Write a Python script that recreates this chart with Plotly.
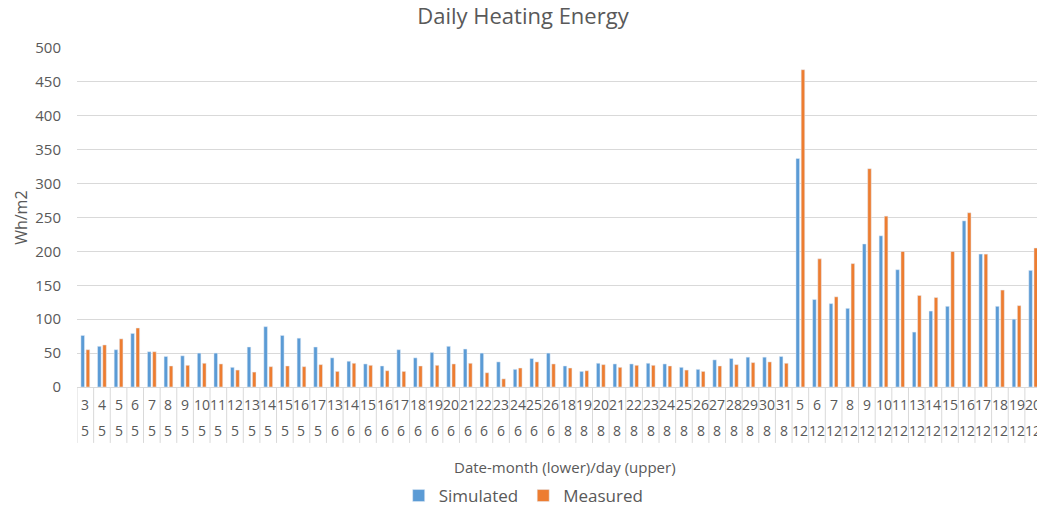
import plotly.graph_objects as go

days = [3, 4, 5, 6, 7, 8, 9, 10, 11, 12, 13, 14, 15, 16, 17,
        13, 14, 15, 16, 17, 18, 19, 20, 21, 22, 23, 24, 25, 26,
        18, 19, 20, 21, 22, 23, 24, 25, 26, 27, 28, 29, 30, 31,
        5, 6, 7, 8, 9, 10, 11, 13, 14, 15, 16, 17, 18, 19, 20]
months = [5] * 15 + [6] * 14 + [8] * 14 + [12] * 15

simulated = [76, 60, 55, 79, 52, 45, 46, 50, 50, 29, 59, 89, 76, 72, 59,
             43, 38, 34, 31, 55, 43, 51, 60, 56, 50, 37, 26, 42, 50,
             31, 23, 35, 34, 34, 35, 34, 29, 26, 40, 42, 44, 44, 45,
             337, 129, 123, 116, 211, 223, 173, 81, 112, 119, 245, 196, 119, 100, 172]
measured = [55, 62, 71, 87, 52, 31, 32, 35, 34, 25, 22, 30, 31, 30, 33,
            23, 35, 32, 24, 23, 31, 32, 34, 35, 21, 12, 28, 37, 34,
            28, 24, 33, 29, 32, 32, 31, 25, 23, 31, 33, 36, 37, 35,
            468, 189, 133, 182, 322, 252, 200, 135, 132, 200, 257, 196, 143, 120, 205]

cats = [f"{d}/{m}" for d, m in zip(days, months)]

TXT = "#595959"
GRID = "#d9d9d9"
FONT = "Open Sans"

fig = go.Figure()
fig.add_trace(go.Bar(x=cats, y=simulated, name="Simulated", marker_color="#5B9BD5"))
fig.add_trace(go.Bar(x=cats, y=measured, name="Measured", marker_color="#ED7D31"))

annotations = []
for c, d, m in zip(cats, days, months):
    annotations.append(dict(x=c, xref="x", y=-0.053, yref="paper", text=str(d),
                            showarrow=False, yanchor="middle", xanchor="center",
                            font=dict(family=FONT, size=14, color=TXT)))
    annotations.append(dict(x=c, xref="x", y=-0.127, yref="paper", text=str(m),
                            showarrow=False, yanchor="middle", xanchor="center",
                            font=dict(family=FONT, size=14, color=TXT)))
annotations.append(dict(x=0.508, xref="paper", y=-0.236, yref="paper",
                        text="Date-month (lower)/day (upper)", showarrow=False,
                        yanchor="middle", xanchor="center",
                        font=dict(family=FONT, size=15, color=TXT)))
annotations.append(dict(x=-0.059, xref="paper", y=0.5, yref="paper", text="Wh/m2",
                        textangle=-90, showarrow=False, xanchor="center", yanchor="middle",
                        font=dict(family=FONT, size=16, color=TXT)))

shapes = []
for i in range(len(cats) + 1):
    shapes.append(dict(type="line", xref="x", yref="paper", x0=i - 0.5, x1=i - 0.5,
                       y0=0, y1=-0.165, line=dict(color=GRID, width=1)))

fig.update_layout(
    width=1037, height=508,
    margin=dict(l=77, r=0, t=48, b=121),
    paper_bgcolor="white", plot_bgcolor="white",
    barmode="group", bargap=0.375, bargroupgap=0.31,
    title=dict(text="Daily Heating Energy", xref="container", x=0.5043, xanchor="center",
               yref="container", y=0.967, yanchor="middle",
               font=dict(family=FONT, size=22, color=TXT)),
    legend=dict(orientation="h", xref="container", x=0.505, xanchor="center",
                yref="container", y=0.0236, yanchor="middle",
                font=dict(family=FONT, size=17, color=TXT), itemwidth=30),
    annotations=annotations,
    shapes=shapes,
    font=dict(family=FONT, color=TXT),
)
fig.update_xaxes(type="category", range=[-0.5, 57.23], showticklabels=False,
                 showgrid=False, showline=True, linecolor=GRID, ticks="")
fig.update_yaxes(range=[0, 500], dtick=50, showgrid=True, gridcolor=GRID, gridwidth=1,
                 zeroline=False, showline=False, ticks="outside", ticklen=12,
                 tickcolor="rgba(0,0,0,0)",
                 tickfont=dict(family=FONT, size=15, color=TXT))

fig.write_html("out.html", config={"displayModeBar": False},
               post_script="document.body.style.margin='0';document.body.style.overflow='hidden';")
